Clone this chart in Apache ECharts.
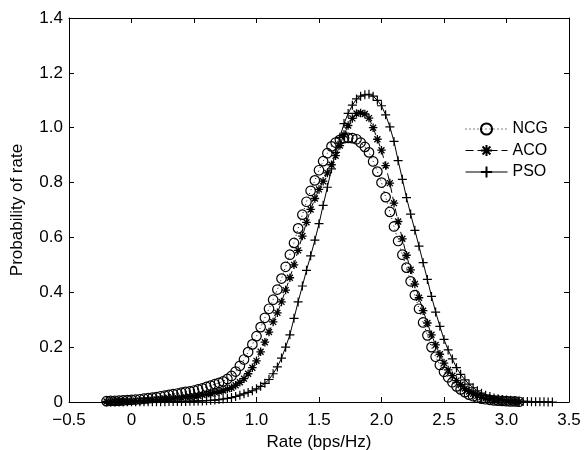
<!DOCTYPE html>
<html>
<head>
<meta charset="utf-8">
<script src="https://cdn.jsdelivr.net/npm/echarts@6/dist/echarts.min.js"></script>
<style>html,body{margin:0;padding:0;background:#fff;}#c{width:585px;height:450px;}</style>
</head>
<body>
<div id="c"></div>
<script>
// Rate (bps/Hz) sample points
const rate = [-0.2,-0.167,-0.133,-0.1,-0.067,-0.033,0,0.033,0.067,0.1,
0.133,0.167,0.2,0.233,0.267,0.3,0.333,0.367,0.4,0.433,
0.467,0.5,0.533,0.567,0.6,0.633,0.667,0.7,0.733,0.767,
0.8,0.833,0.867,0.9,0.933,0.967,1.0,1.033,1.067,1.1,
1.133,1.167,1.2,1.233,1.267,1.3,1.333,1.367,1.4,1.433,
1.467,1.5,1.533,1.567,1.6,1.633,1.667,1.7,1.733,1.767,
1.8,1.833,1.867,1.9,1.933,1.967,2.0,2.033,2.067,2.1,
2.133,2.167,2.2,2.233,2.267,2.3,2.333,2.367,2.4,2.433,
2.467,2.5,2.533,2.567,2.6,2.633,2.667,2.7,2.733,2.767,
2.8,2.833,2.867,2.9,2.933,2.967,3.0,3.033,3.067,3.1,
3.133,3.167,3.2,3.233,3.267,3.3,3.333,3.367];

const ncg = [0.003,0.004,0.004,0.005,0.006,0.007,0.008,0.009,0.010,0.012,
0.014,0.016,0.018,0.021,0.023,0.026,0.029,0.031,0.034,0.037,
0.039,0.042,0.046,0.050,0.055,0.060,0.065,0.070,0.075,0.084,
0.095,0.111,0.132,0.155,0.182,0.210,0.240,0.273,0.307,0.340,
0.373,0.410,0.450,0.493,0.537,0.580,0.633,0.683,0.730,0.770,
0.808,0.845,0.878,0.907,0.932,0.946,0.956,0.962,0.963,0.962,
0.958,0.946,0.930,0.910,0.877,0.840,0.800,0.747,0.693,0.640,
0.587,0.537,0.490,0.440,0.390,0.340,0.290,0.243,0.200,0.165,
0.135,0.110,0.090,0.072,0.057,0.046,0.036,0.027,0.021,0.016,
0.012,0.010,0.008,0.006,0.005,0.004,0.003,0.002,0.002,0.001];

const aco = [0.002,0.002,0.003,0.003,0.003,0.004,0.004,0.005,0.005,0.006,
0.007,0.008,0.009,0.010,0.011,0.012,0.013,0.015,0.016,0.018,
0.019,0.021,0.023,0.026,0.028,0.031,0.035,0.038,0.042,0.047,
0.052,0.061,0.072,0.085,0.103,0.125,0.150,0.183,0.218,0.255,
0.292,0.325,0.365,0.408,0.453,0.500,0.553,0.605,0.655,0.702,
0.742,0.775,0.805,0.835,0.865,0.898,0.935,0.975,1.008,1.034,
1.052,1.054,1.050,1.035,1.000,0.958,0.918,0.862,0.798,0.725,
0.658,0.595,0.535,0.482,0.430,0.380,0.333,0.288,0.245,0.208,
0.174,0.142,0.117,0.096,0.078,0.063,0.049,0.038,0.030,0.023,
0.017,0.013,0.010,0.007,0.006,0.004,0.003,0.002,0.002,0.001];

const pso = [0,0,0,0,0,0.0005,0.0005,0.0005,0.001,0.001,
0.001,0.001,0.001,0.001,0.001,0.0015,0.002,0.002,0.002,0.002,
0.003,0.003,0.004,0.004,0.005,0.006,0.007,0.009,0.011,0.013,
0.016,0.020,0.025,0.030,0.035,0.041,0.048,0.057,0.068,0.082,
0.103,0.128,0.160,0.200,0.245,0.305,0.365,0.423,0.480,0.533,
0.590,0.650,0.717,0.783,0.850,0.910,0.965,1.015,1.052,1.082,
1.105,1.115,1.120,1.122,1.115,1.100,1.080,1.047,1.003,0.950,
0.880,0.812,0.745,0.685,0.626,0.568,0.508,0.447,0.385,0.328,
0.276,0.228,0.190,0.157,0.125,0.101,0.081,0.065,0.052,0.041,
0.032,0.025,0.020,0.015,0.012,0.009,0.007,0.006,0.004,0.003,
0.002,0.002,0.001,0.001,0.001,0.0005,0,0];

const xTicks = [-0.5,0,0.5,1.0,1.5,2.0,2.5,3.0,3.5];
const yTicks = [0,0.2,0.4,0.6,0.8,1.0,1.2,1.4];
const seriesNames = ['NCG','ACO','PSO'];

function pairs(ys){ return ys.map((y,i)=>[rate[i],y]); }

const FONT = '"Liberation Sans", Arial, Helvetica, sans-serif';
const FS = 17;
const starPath = 'path://M5,0 L5,10 M0,5 L10,5 M1.5,1.5 L8.5,8.5 M1.5,8.5 L8.5,1.5';
const plusPath = 'path://M5,0 L5,10 M0,5 L10,5';

function xLab(v){ if (v===0) return '0'; const s=Math.abs(v).toFixed(1); return (v<0?'\u2212':'')+s; }
function yLab(v){ return v===0 ? '0' : v.toFixed(1); }

const baseX = {type:'value', min:xTicks[0], max:xTicks[xTicks.length-1], interval:0.5,
  axisLine:{show:true,onZero:false,lineStyle:{color:'#000',width:1}},
  axisTick:{show:true,inside:true,length:5,lineStyle:{color:'#000'}},
  splitLine:{show:false}};
const baseY = {type:'value', min:yTicks[0], max:yTicks[yTicks.length-1], interval:0.2,
  axisLine:{show:true,onZero:false,lineStyle:{color:'#000',width:1}},
  axisTick:{show:true,inside:true,length:5,lineStyle:{color:'#000'}},
  splitLine:{show:false}};

const chart = echarts.init(document.getElementById('c'), null, {renderer:'canvas'});
chart.setOption({
  animation:false,
  backgroundColor:'#fff',
  textStyle:{fontFamily:FONT},
  grid:{left:69,right:16,top:18,bottom:48,containLabel:false,outerBoundsMode:'none'},
  legend:{
    orient:'vertical', left:460, top:116, itemWidth:42, itemHeight:14, itemGap:5.5,
    textStyle:{color:'#000',fontSize:16,fontFamily:FONT},
    lineStyle:{width:1},
    data:seriesNames
  },
  xAxis:[
    Object.assign({}, baseX, {position:'bottom', name:'Rate (bps/Hz)', nameLocation:'middle', nameGap:29,
      nameTextStyle:{color:'#000',fontSize:FS,fontFamily:FONT},
      axisLabel:{show:true,color:'#000',fontSize:FS,margin:10,fontFamily:FONT,formatter:xLab}}),
    Object.assign({}, baseX, {position:'top', axisLabel:{show:false}})
  ],
  yAxis:[
    Object.assign({}, baseY, {position:'left', name:'Probability of rate', nameLocation:'middle', nameGap:43,
      nameTextStyle:{color:'#000',fontSize:FS,fontFamily:FONT},
      axisLabel:{show:true,color:'#000',fontSize:FS,margin:6,fontFamily:FONT,formatter:yLab}}),
    Object.assign({}, baseY, {position:'right', axisLabel:{show:false}})
  ],
  series:[
    {name:'NCG', type:'line', data:pairs(ncg), showAllSymbol:true, symbol:'circle', symbolSize:9.5,
      lineStyle:{color:'#000',width:1,type:[1,3]},
      itemStyle:{color:'rgba(0,0,0,0)',borderColor:'#000',borderWidth:1.2}},
    {name:'ACO', type:'line', data:pairs(aco), showAllSymbol:true, symbol:starPath, symbolSize:8.5,
      lineStyle:{color:'#000',width:1,type:[8,4]},
      itemStyle:{color:'rgba(0,0,0,0)',borderColor:'#000',borderWidth:1.3}},
    {name:'PSO', type:'line', data:pairs(pso), showAllSymbol:true, symbol:plusPath, symbolSize:9,
      lineStyle:{color:'#000',width:1,type:'solid'},
      itemStyle:{color:'rgba(0,0,0,0)',borderColor:'#000',borderWidth:1.2}}
  ]
});
</script>
</body>
</html>
